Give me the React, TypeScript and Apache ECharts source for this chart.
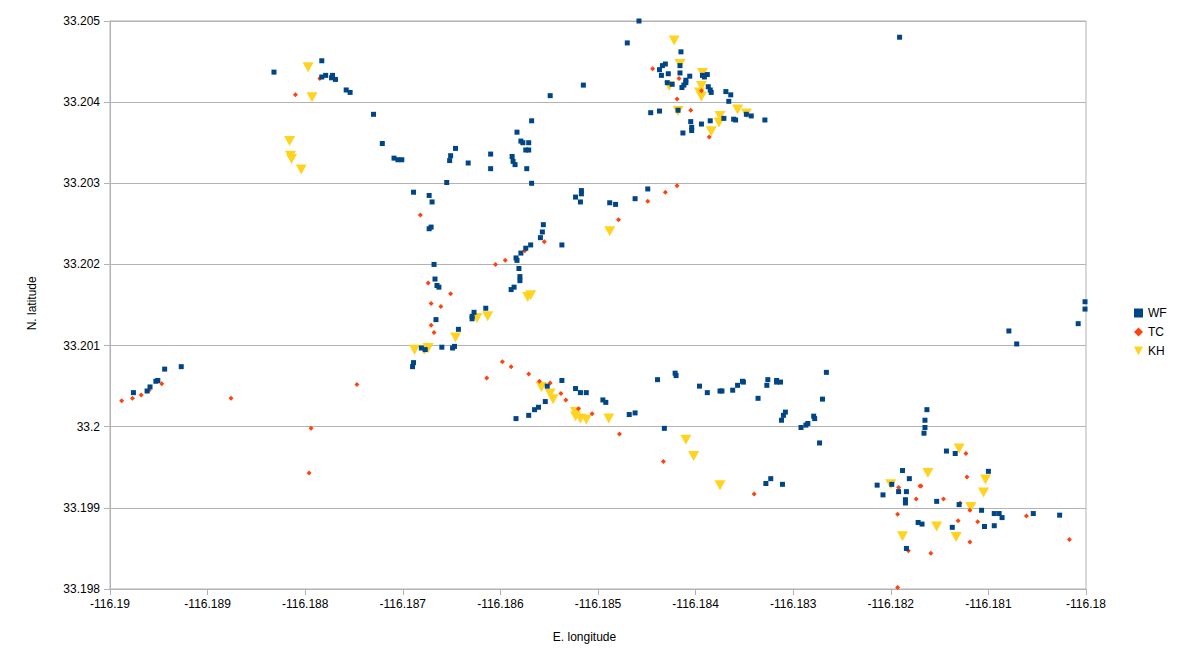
import React, { useEffect, useRef } from "react";
import * as echarts from "echarts";

const seriesNames = ["WF", "TC", "KH"];
const seriesColors = ["#004586", "#ff420e", "#ffd320"];

const xMin = -116.19;
const xMax = -116.18;
const xStep = 0.001;
const yMin = 33.198;
const yMax = 33.205;
const yStep = 0.001;

const xAxisTitle = "E. longitude";
const yAxisTitle = "N. latitude";

const wfPoints: [number, number][] = [
  [-116.18832, 33.20437], [-116.18783, 33.20451], [-116.18783, 33.20431], [-116.18779, 33.20433], [-116.18772, 33.20433],
  [-116.18773, 33.2043], [-116.18769, 33.20428], [-116.18758, 33.20415], [-116.18754, 33.20412], [-116.1873, 33.20385],
  [-116.18721, 33.20349], [-116.18709, 33.20331], [-116.18705, 33.20329], [-116.18701, 33.20329], [-116.18689, 33.20289],
  [-116.18458, 33.205], [-116.1847, 33.20473], [-116.18415, 33.20462], [-116.18416, 33.20445], [-116.18437, 33.2044],
  [-116.18434, 33.20445], [-116.18431, 33.20447], [-116.18428, 33.20435], [-116.18435, 33.20433], [-116.18416, 33.20436],
  [-116.18406, 33.20432], [-116.18393, 33.20433], [-116.18388, 33.20434], [-116.18391, 33.20431], [-116.1841, 33.20427],
  [-116.1841, 33.20424], [-116.18412, 33.20421], [-116.18414, 33.20418], [-116.18429, 33.20424], [-116.18424, 33.20422],
  [-116.18387, 33.20419], [-116.18385, 33.20415], [-116.18384, 33.20412], [-116.18369, 33.20413], [-116.18364, 33.20409],
  [-116.18515, 33.20421], [-116.18549, 33.20408], [-116.18366, 33.20401], [-116.18418, 33.2039], [-116.18446, 33.20387],
  [-116.18437, 33.20389], [-116.18348, 33.20385], [-116.18343, 33.20383], [-116.18371, 33.2038], [-116.18361, 33.20379],
  [-116.18359, 33.20378], [-116.18405, 33.20376], [-116.18404, 33.20369], [-116.18404, 33.20365], [-116.18394, 33.20373],
  [-116.18385, 33.20377], [-116.18413, 33.20362], [-116.18568, 33.20377], [-116.18583, 33.20363], [-116.18579, 33.20352],
  [-116.18577, 33.2035], [-116.18571, 33.2035], [-116.18574, 33.20341], [-116.18571, 33.20341], [-116.18646, 33.20343],
  [-116.18651, 33.20334], [-116.18652, 33.20328], [-116.18633, 33.20325], [-116.1861, 33.20336], [-116.1861, 33.20318],
  [-116.18588, 33.20333], [-116.18587, 33.20327], [-116.18585, 33.20323], [-116.18573, 33.20318], [-116.18568, 33.203],
  [-116.18655, 33.20301], [-116.18673, 33.20285], [-116.1867, 33.20277], [-116.18673, 33.20244], [-116.18671, 33.20246],
  [-116.18517, 33.20291], [-116.18517, 33.20287], [-116.18523, 33.20283], [-116.18518, 33.20277], [-116.18488, 33.20276],
  [-116.18482, 33.20274], [-116.18462, 33.20281], [-116.18449, 33.20293], [-116.18556, 33.20249], [-116.18557, 33.2024],
  [-116.18559, 33.20233], [-116.18569, 33.20224], [-116.18574, 33.2022], [-116.18579, 33.20214], [-116.18537, 33.20224],
  [-116.18584, 33.20208], [-116.18583, 33.20205], [-116.18581, 33.20195], [-116.1858, 33.20185], [-116.1858, 33.2018],
  [-116.18586, 33.20172], [-116.18589, 33.20169], [-116.18668, 33.202], [-116.18667, 33.20182], [-116.18665, 33.20174],
  [-116.18663, 33.20172], [-116.18666, 33.20132], [-116.18629, 33.20136], [-116.18627, 33.20141], [-116.18629, 33.20133],
  [-116.18615, 33.20146], [-116.18643, 33.2012], [-116.18677, 33.20095], [-116.18681, 33.20097], [-116.1866, 33.20098],
  [-116.18649, 33.20097], [-116.18647, 33.20099], [-116.18552, 33.2005], [-116.18537, 33.20057], [-116.18554, 33.20031],
  [-116.18523, 33.20047], [-116.18518, 33.20042], [-116.18512, 33.20042], [-116.18495, 33.20033], [-116.18492, 33.2003],
  [-116.18584, 33.2001], [-116.18571, 33.20014], [-116.18565, 33.20021], [-116.18561, 33.20024], [-116.18468, 33.20015],
  [-116.18462, 33.20017], [-116.18439, 33.20058], [-116.18421, 33.20066], [-116.1842, 33.20063], [-116.18432, 33.19998],
  [-116.18396, 33.2005], [-116.18388, 33.20042], [-116.18375, 33.20044], [-116.18373, 33.20044], [-116.18362, 33.20045],
  [-116.18357, 33.20051], [-116.18352, 33.20056], [-116.18351, 33.20055], [-116.18336, 33.20035], [-116.18001, 33.20154],
  [-116.18001, 33.20145], [-116.18008, 33.20127], [-116.18079, 33.20118], [-116.18071, 33.20102], [-116.18326, 33.20058],
  [-116.18327, 33.20051], [-116.18317, 33.20057], [-116.18313, 33.20055], [-116.18317, 33.20055], [-116.18266, 33.20067],
  [-116.1827, 33.20034], [-116.18308, 33.20018], [-116.1831, 33.20014], [-116.18312, 33.20008], [-116.18279, 33.20013],
  [-116.18278, 33.2001], [-116.18285, 33.20004], [-116.18287, 33.20002], [-116.18292, 33.19999], [-116.18273, 33.1998],
  [-116.18328, 33.1993], [-116.18323, 33.19936], [-116.18311, 33.19929], [-116.18163, 33.20021], [-116.18165, 33.20008],
  [-116.18165, 33.19999], [-116.18166, 33.19992], [-116.18143, 33.1997], [-116.18134, 33.19967], [-116.181, 33.19945],
  [-116.18188, 33.19946], [-116.18181, 33.19936], [-116.18199, 33.19929], [-116.18214, 33.19928], [-116.18208, 33.19916],
  [-116.18192, 33.1992], [-116.18184, 33.1992], [-116.18185, 33.1991], [-116.18185, 33.19906], [-116.18153, 33.19908],
  [-116.1813, 33.19904], [-116.18107, 33.19897], [-116.18094, 33.19893], [-116.18089, 33.19893], [-116.18086, 33.19888],
  [-116.18054, 33.19893], [-116.18027, 33.19891], [-116.18172, 33.19882], [-116.18168, 33.1988], [-116.18137, 33.19876],
  [-116.18104, 33.19877], [-116.18094, 33.19878], [-116.18184, 33.1985], [-116.18191, 33.2048], [-116.18329, 33.20378],
  [-116.18976, 33.20042], [-116.18962, 33.20044], [-116.18959, 33.20049], [-116.18953, 33.20056], [-116.18951, 33.20057],
  [-116.18944, 33.20071], [-116.18927, 33.20074], [-116.1869, 33.20074], [-116.18689, 33.20079],
];

const tcPoints: [number, number][] = [
  [-116.1881, 33.20409], [-116.18785, 33.20429], [-116.18682, 33.20261], [-116.18444, 33.20441], [-116.18417, 33.20429],
  [-116.18394, 33.20414], [-116.18419, 33.20404], [-116.18405, 33.2039], [-116.18386, 33.20357], [-116.18431, 33.20289],
  [-116.18419, 33.20297], [-116.18449, 33.20278], [-116.18479, 33.20255], [-116.18555, 33.20228], [-116.18575, 33.20217],
  [-116.18605, 33.202], [-116.18595, 33.20205], [-116.18674, 33.20177], [-116.18651, 33.20164], [-116.18671, 33.20152],
  [-116.18661, 33.20148], [-116.18671, 33.20125], [-116.18668, 33.20116], [-116.18598, 33.2008], [-116.18589, 33.20074],
  [-116.18571, 33.20065], [-116.18614, 33.2006], [-116.1856, 33.20056], [-116.18549, 33.20054], [-116.18538, 33.20041],
  [-116.18533, 33.20033], [-116.1852, 33.20022], [-116.18506, 33.20016], [-116.18478, 33.19991], [-116.18433, 33.19957],
  [-116.1834, 33.19917], [-116.18123, 33.19967], [-116.18122, 33.19938], [-116.18192, 33.19925], [-116.1817, 33.19927],
  [-116.18169, 33.19927], [-116.18174, 33.19911], [-116.18146, 33.19911], [-116.18129, 33.19906], [-116.18119, 33.19897],
  [-116.18193, 33.19892], [-116.18061, 33.1989], [-116.18131, 33.19884], [-116.18111, 33.19883], [-116.18119, 33.19858],
  [-116.18017, 33.19861], [-116.18182, 33.19847], [-116.18159, 33.19844], [-116.18193, 33.19802], [-116.18988, 33.20032],
  [-116.18977, 33.20035], [-116.18968, 33.20039], [-116.1896, 33.20045], [-116.18947, 33.20053], [-116.18876, 33.20035],
  [-116.18794, 33.19998], [-116.18796, 33.19943], [-116.18747, 33.20052],
];

const khPoints: [number, number][] = [
  [-116.18797, 33.20443], [-116.18793, 33.20406], [-116.18816, 33.20352], [-116.18815, 33.20334], [-116.18814, 33.2033],
  [-116.18804, 33.20317], [-116.18422, 33.20476], [-116.18416, 33.20447], [-116.18393, 33.20436], [-116.18427, 33.2042],
  [-116.18394, 33.2042], [-116.18396, 33.20412], [-116.18394, 33.20407], [-116.18357, 33.20391], [-116.18418, 33.20389],
  [-116.18348, 33.20386], [-116.18375, 33.20383], [-116.18376, 33.20375], [-116.18384, 33.20364], [-116.18488, 33.20241],
  [-116.18569, 33.20162], [-116.18572, 33.2016], [-116.18624, 33.20134], [-116.18613, 33.20136], [-116.18646, 33.2011],
  [-116.18678, 33.20095], [-116.18674, 33.20097], [-116.18688, 33.20095], [-116.18558, 33.20049], [-116.18549, 33.20041],
  [-116.18546, 33.20034], [-116.18523, 33.20013], [-116.18518, 33.2001], [-116.18512, 33.20009], [-116.18489, 33.2001],
  [-116.1841, 33.19984], [-116.18402, 33.19964], [-116.18375, 33.19928], [-116.1813, 33.19973], [-116.18162, 33.19943],
  [-116.18103, 33.19935], [-116.18105, 33.19919], [-116.182, 33.19929], [-116.18118, 33.19901], [-116.18153, 33.19877],
  [-116.18188, 33.19865], [-116.18133, 33.19864], [-116.18523, 33.20018],
];

const FONT = "'Liberation Sans', Arial, sans-serif";
const TRIANGLE_DOWN = "path://M0,0L10,0L5,10Z";

export default function App() {
  const ref = useRef<HTMLDivElement>(null);

  useEffect(() => {
    document.body.style.margin = "0";
    const chart = echarts.init(ref.current as HTMLDivElement, null, { renderer: "svg" });
    const fmt = (v: number) => String(parseFloat(v.toFixed(3)));
    const gray = "#b3b3b3";

    chart.setOption({
      animation: false,
      backgroundColor: "#ffffff",
      grid: {
        left: 110,
        right: 94,
        top: 21,
        bottom: 75,
        show: true,
        borderColor: gray,
        borderWidth: 1,
        backgroundColor: "transparent",
      },
      xAxis: {
        type: "value",
        min: xMin,
        max: xMax,
        interval: xStep,
        axisLine: { show: true, onZero: false, lineStyle: { color: gray } },
        axisTick: { show: true, length: 6, lineStyle: { color: gray } },
        splitLine: { show: false },
        axisLabel: { formatter: fmt, color: "#000", fontFamily: FONT, fontSize: 12, margin: 9 },
      },
      yAxis: {
        type: "value",
        min: yMin,
        max: yMax,
        interval: yStep,
        axisLine: { show: true, onZero: false, lineStyle: { color: gray } },
        axisTick: { show: true, length: 6, lineStyle: { color: gray } },
        splitLine: { show: true, lineStyle: { color: gray, width: 1 } },
        axisLabel: { formatter: fmt, color: "#000", fontFamily: FONT, fontSize: 12, margin: 10 },
      },
      legend: {
        orient: "vertical",
        left: 1134,
        top: 307,
        padding: 0,
        itemWidth: 9,
        itemHeight: 9,
        itemGap: 7,
        selectedMode: false,
        data: [
          { name: seriesNames[0], icon: "rect" },
          { name: seriesNames[1], icon: "diamond" },
          { name: seriesNames[2], icon: TRIANGLE_DOWN },
        ],
        textStyle: { fontFamily: FONT, fontSize: 12, color: "#000" },
      },
      graphic: [
        {
          type: "text",
          x: 31.7,
          y: 303.3,
          rotation: Math.PI / 2,
          style: {
            text: yAxisTitle,
            font: `12px ${FONT}`,
            fill: "#000",
            align: "center",
            verticalAlign: "middle",
            textAlign: "center",
            textVerticalAlign: "middle",
          },
        },
        {
          type: "text",
          x: 584.5,
          y: 637,
          style: {
            text: xAxisTitle,
            font: `12px ${FONT}`,
            fill: "#000",
            align: "center",
            verticalAlign: "middle",
            textAlign: "center",
            textVerticalAlign: "middle",
          },
        },
      ],
      series: [
        {
          name: seriesNames[2],
          type: "scatter",
          data: khPoints,
          symbol: TRIANGLE_DOWN,
          symbolSize: [11, 10],
          itemStyle: { color: seriesColors[2], opacity: 1 },
          silent: true,
        },
        {
          name: seriesNames[1],
          type: "scatter",
          data: tcPoints,
          symbol: "diamond",
          symbolSize: 5,
          itemStyle: { color: seriesColors[1], opacity: 1 },
          silent: true,
        },
        {
          name: seriesNames[0],
          type: "scatter",
          data: wfPoints,
          symbol: "rect",
          symbolSize: 5,
          itemStyle: { color: seriesColors[0], opacity: 1 },
          silent: true,
        },
      ],
    });

    return () => chart.dispose();
  }, []);

  return <div ref={ref} style={{ width: 1180, height: 664 }} />;
}
